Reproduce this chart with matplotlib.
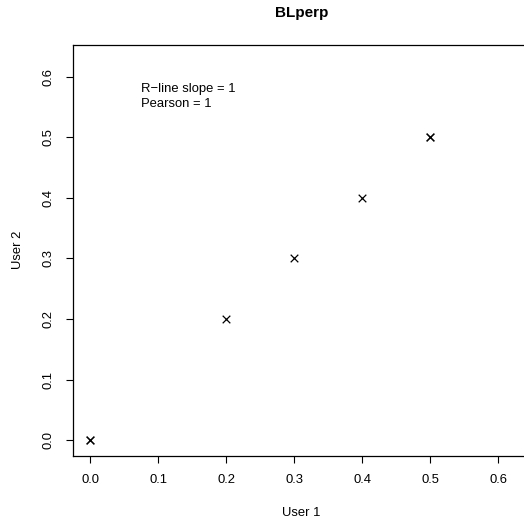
import matplotlib
matplotlib.use("Agg")
import matplotlib.pyplot as plt

# data
user1 = [0.0, 0.0, 0.2, 0.3, 0.4, 0.5, 0.5]
user2 = [0.0, 0.0, 0.2, 0.3, 0.4, 0.5, 0.5]
ticks = [0.0, 0.1, 0.2, 0.3, 0.4, 0.5, 0.6]
tick_labels = ["0.0", "0.1", "0.2", "0.3", "0.4", "0.5", "0.6"]
title = "BLperp"
notes = ["R\u2212line slope = 1", "Pearson = 1"]

plt.rcParams['font.family'] = ['Liberation Sans', 'DejaVu Sans']
W, H = 524, 527
fs = 9.4
fig = plt.figure(figsize=(W / 100, H / 100), dpi=100)

# plot box in pixels: left 73, right 532 (past the edge), top 45, bottom 456
ax = fig.add_axes([73 / W, (H - 456) / H, (532 - 73) / W, (456 - 45) / H])
ax.scatter(user1, user2, marker='x', s=30, color='black', linewidths=0.9)

ax.set_xlim(-0.025, 0.65)
ax.set_ylim(-0.026, 0.652)
ax.set_xticks(ticks)
ax.set_xticklabels(tick_labels)
ax.set_yticks(ticks)
ax.set_yticklabels(tick_labels, rotation=90, va='center')
ax.tick_params(direction='out', length=5, width=0.8, labelsize=fs, pad=8)
for s in ax.spines.values():
    s.set_linewidth(0.9)
ax.spines['right'].set_visible(False)

ax.text(0.075, 0.58, notes[0], fontsize=fs, va='center', ha='left')
ax.text(0.075, 0.555, notes[1], fontsize=fs, va='center', ha='left')

fig.text(302 / W, 1 - 13 / H, title, fontsize=11, fontweight='bold', ha='center', va='center')
fig.text(301 / W, 1 - 513 / H, "User 1", fontsize=fs, ha='center', va='center')
fig.text(18 / W, 1 - 250 / H, "User 2", fontsize=fs, ha='center', va='center', rotation=90)

fig.savefig("out.png", dpi=100)
